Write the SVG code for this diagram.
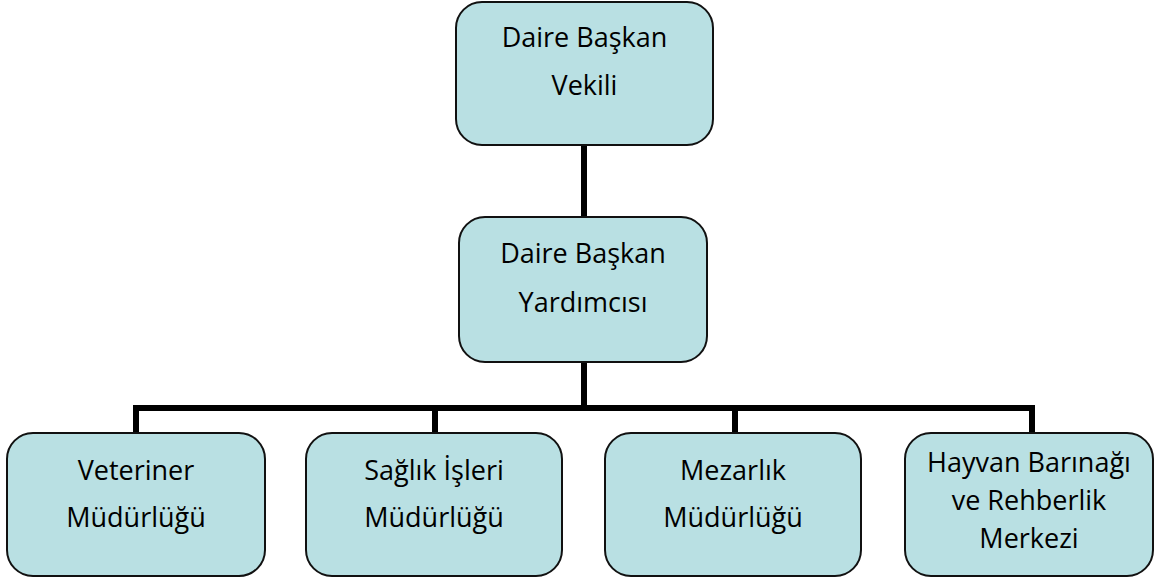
<svg xmlns="http://www.w3.org/2000/svg" width="1155" height="577" viewBox="0 0 1155 577">
<style>
.box{fill:#b9e0e3;stroke:#111;stroke-width:2}
.t{font-family:"Open Sans","DejaVu Sans",sans-serif;font-size:27px;fill:#000;text-anchor:middle}
.c{stroke:#000;stroke-width:6;fill:none}
</style>
<rect width="1155" height="577" fill="#fff"/>
<g id="connectors">
<line class="c" x1="584" y1="145" x2="584" y2="218"/>
<line class="c" x1="584" y1="362" x2="584" y2="408"/>
<polyline class="c" points="136,434 136,408 1032,408 1032,434"/>
<line class="c" x1="435" y1="408" x2="435" y2="434"/>
<line class="c" x1="735" y1="408" x2="735" y2="434"/>
</g>
<g id="n1"><rect class="box" x="456" y="2" width="257" height="143" rx="26"/>
<text class="t" x="584.5" y="47">Daire Başkan</text><text class="t" x="584.5" y="95">Vekili</text></g>
<g id="n2"><rect class="box" x="459" y="217" width="248" height="145" rx="26"/>
<text class="t" x="583" y="263">Daire Başkan</text><text class="t" x="583" y="312">Yardımcısı</text></g>
<g id="n3"><rect class="box" x="7" y="433" width="258" height="143" rx="26"/>
<text class="t" x="136" y="480">Veteriner</text><text class="t" x="136" y="527">Müdürlüğü</text></g>
<g id="n4"><rect class="box" x="306" y="433" width="256" height="143" rx="26"/>
<text class="t" x="434" y="480">Sağlık İşleri</text><text class="t" x="434" y="527">Müdürlüğü</text></g>
<g id="n5"><rect class="box" x="605" y="433" width="256" height="143" rx="26"/>
<text class="t" x="733" y="480">Mezarlık</text><text class="t" x="733" y="527">Müdürlüğü</text></g>
<g id="n6"><rect class="box" x="905" y="433" width="248" height="143" rx="26"/>
<text class="t" x="1029" y="472">Hayvan Barınağı</text><text class="t" x="1029" y="510">ve Rehberlik</text><text class="t" x="1029" y="548">Merkezi</text></g>
</svg>
